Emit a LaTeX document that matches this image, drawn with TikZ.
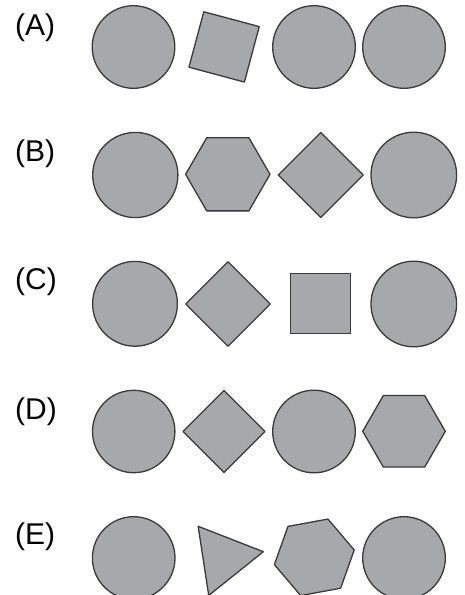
\documentclass[tikz,border=0pt]{standalone}
\usepackage{fontspec}
\setmainfont{Liberation Sans}
\definecolor{shapefill}{HTML}{A7A8AB}
\definecolor{shapeline}{HTML}{3A3A3A}
\begin{document}
\begin{tikzpicture}[x=1pt,y=-1pt,
  shp/.style={fill=shapefill,draw=shapeline,line width=1.3pt,line join=round},
  lbl/.style={anchor=base west,inner sep=0pt,font=\fontsize{30}{32}\selectfont}]
\useasboundingbox (0,0) rectangle (464,595);
\clip (0,0) rectangle (464,595);
% labels
\node[lbl] (la) at (15,35.5) {(A)};
\node[lbl] (lb) at (15,161) {(B)};
\node[lbl] (lc) at (15,289.5) {(C)};
\node[lbl] (ld) at (15,419.5) {(D)};
\node[lbl] (le) at (15,544.5) {(E)};
% row A
\draw[shp] (133.5,47) circle (41.3);
\draw[shp] ([shift={(224.1,46.9)}]-30:40.6) -- ([shift={(224.1,46.9)}]60:40.6) -- ([shift={(224.1,46.9)}]150:40.6) -- ([shift={(224.1,46.9)}]240:40.6) -- cycle;
\draw[shp] (314,47) circle (41.3);
\draw[shp] (404,47) circle (41.3);
% row B
\draw[shp] (135.3,175) circle (42.6);
\draw[shp] ([shift={(227.8,174.3)}]0:42.2) \foreach \a in {60,120,...,300} { -- ([shift={(227.8,174.3)}]\a:42.2) } -- cycle;
\draw[shp] ([shift={(320.7,175)}]0:42.5) \foreach \a in {90,180,270} { -- ([shift={(320.7,175)}]\a:42.5) } -- cycle;
\draw[shp] (413.8,175) circle (42.8);
% row C
\draw[shp] (135,303.8) circle (42.4);
\draw[shp] ([shift={(228,304)}]0:42.2) \foreach \a in {90,180,270} { -- ([shift={(228,304)}]\a:42.2) } -- cycle;
\draw[shp] (290.8,273.8) rectangle (350.8,333.8);
\draw[shp] (413.8,304) circle (42.8);
% row D
\draw[shp] (133.7,431.5) circle (41.2);
\draw[shp] ([shift={(224,431.5)}]0:41) \foreach \a in {90,180,270} { -- ([shift={(224,431.5)}]\a:41) } -- cycle;
\draw[shp] (314,431.5) circle (41.3);
\draw[shp] ([shift={(404,431.3)}]0:41.3) \foreach \a in {60,120,...,300} { -- ([shift={(404,431.3)}]\a:41.3) } -- cycle;
% row E
\draw[shp] (133.7,558) circle (41.3);
\draw[shp] ([shift={(223.4,557.8)}]-8.7:40.4) -- ([shift={(223.4,557.8)}]111.3:40.4) -- ([shift={(223.4,557.8)}]231.3:40.4) -- cycle;
\draw[shp] ([shift={(314.3,557.3)}]-10.4:40.6) \foreach \a in {49.6,109.6,169.6,229.6,289.6} { -- ([shift={(314.3,557.3)}]\a:40.6) } -- cycle;
\draw[shp] (404,558) circle (41.3);
\end{tikzpicture}
\end{document}
